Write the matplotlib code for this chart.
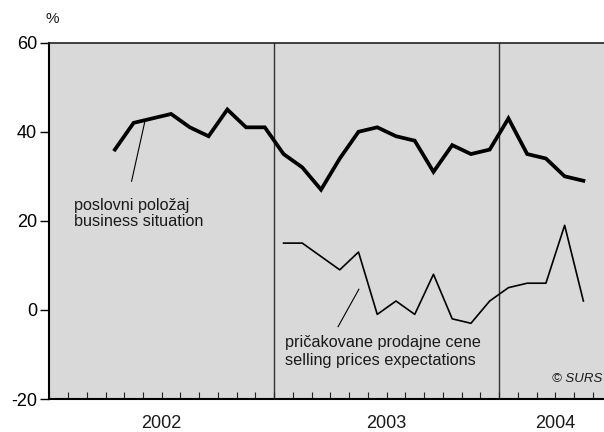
import matplotlib
matplotlib.use("Agg")
import matplotlib.pyplot as plt
import matplotlib.transforms as mtransforms

plt.rcParams['font.family'] = ['Liberation Sans', 'DejaVu Sans']

# Months indexed from January 2002 (0) ; points plotted at mid-month
business_start = 3  # April 2002
business = [36, 42, 43, 44, 41, 39, 45, 41, 41,
            35, 32, 27, 34, 40, 41, 39, 38, 31, 37, 35, 36,
            43, 35, 34, 30, 29]
prices_start = 12  # January 2003
prices = [15, 15, 12, 9, 13, -1, 2, -1, 8, -2, -3, 2,
          5, 6, 6, 19, 2]

years = ['2002', '2003', '2004']
year_label_pos = [6, 18, 27]
year_bounds = [12, 24]
yticks = [-20, 0, 20, 40, 60]

bx = [business_start + i + 0.5 for i in range(len(business))]
px = [prices_start + i + 0.5 for i in range(len(prices))]

fig = plt.figure(figsize=(6.04, 4.32), dpi=100)
ax = fig.add_axes([49.3 / 604, 1 - 399 / 432, 1 - 49.3 / 604, (399 - 42.7) / 432])
ax.set_facecolor('#d9d9d9')

txt = '#1a1a1a'
for b in year_bounds:
    ax.axvline(b, color='#333333', lw=1.0, zorder=1)

ax.plot(bx, business, color='black', lw=2.7, solid_joinstyle='miter', zorder=3)
ax.plot(px, prices, color='black', lw=1.2, zorder=3)

# leader lines
ax.plot([5.12, 4.39], [42.7, 28.9], color='black', lw=0.8, zorder=3)
ax.plot([16.52, 15.41], [4.65, -3.76], color='black', lw=0.8, zorder=3)

fs = 11.7
ax.text(1.32, 23.5, 'poslovni položaj', fontsize=fs, color=txt, va='center', ha='left')
ax.text(1.32, 19.8, 'business situation', fontsize=fs, color=txt, va='center', ha='left')
ax.text(12.57, -7.3, 'pričakovane prodajne cene', fontsize=fs, color=txt, va='center', ha='left')
ax.text(12.57, -11.3, 'selling prices expectations', fontsize=fs, color=txt, va='center', ha='left')
ax.text(29.5, -15.6, '© SURS', fontsize=9.5, style='italic', color=txt, va='center', ha='right')

ax.set_xlim(0, 29.6)
ax.set_ylim(-20, 60)
ax.set_yticks(yticks)
ax.set_yticklabels([str(v) for v in yticks], fontsize=13, color='black')
ax.tick_params(axis='y', direction='out', length=6.5, width=1.0, pad=2.4)
ax.set_xticks(list(range(0, 30)))
ax.set_xticklabels([])
ax.tick_params(axis='x', direction='in', length=5, width=0.8, color='#222222')

trans = mtransforms.blended_transform_factory(ax.transData, ax.transAxes)
for lab, pos in zip(years, year_label_pos):
    ax.text(pos, -0.0674, lab, transform=trans, fontsize=13, ha='center', va='center', color=txt)

for s in ['left', 'bottom']:
    ax.spines[s].set_linewidth(1.5)
    ax.spines[s].set_color('black')
ax.spines['top'].set_linewidth(1.2)
ax.spines['top'].set_color('#222222')
ax.spines['right'].set_visible(False)

fig.text(52 / 604, 1 - 19 / 432, '%', fontsize=11, ha='center', va='center', color=txt)

fig.savefig('out.png', dpi=100)
